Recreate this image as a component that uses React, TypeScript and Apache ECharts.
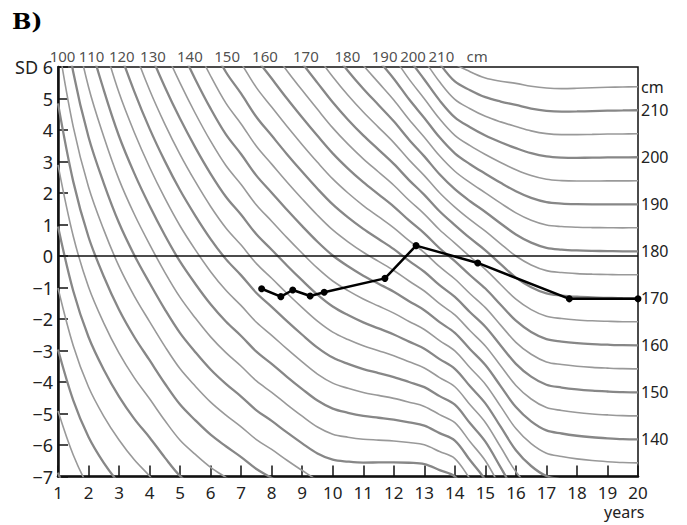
import React, { useEffect, useRef } from "react";
import * as echarts from "echarts";

// Growth reference: mean height and SD (cm) by age (years)
const AGES = [1, 1.5, 2, 2.5, 3, 3.5, 4, 4.5, 5, 5.5, 6, 6.5, 7, 7.5, 8, 8.5, 9, 9.5, 10, 10.5, 11, 11.5, 12, 12.5, 13, 13.5, 14, 14.5, 15, 15.5, 16, 16.5, 17, 17.5, 18, 18.5, 19, 19.5, 20];
const MEAN_CM = [77.6, 83.2, 88.1, 92.2, 96.2, 99.9, 103.5, 107.2, 110.8, 114.1, 117.4, 120.5, 123.2, 126.3, 128.9, 131.7, 134.5, 137.3, 139.9, 142.1, 144.2, 146.2, 148.4, 151.2, 154.1, 157.9, 161.4, 165.2, 168.5, 172.0, 175.0, 177.0, 178.2, 178.6, 178.8, 178.9, 178.95, 179.0, 179.0];
const SD_CM = [2.56, 2.88, 3.15, 3.38, 3.63, 3.85, 4.08, 4.25, 4.41, 4.62, 4.83, 5.05, 5.2, 5.37, 5.52, 5.66, 5.8, 5.95, 6.17, 6.45, 6.74, 7.05, 7.39, 7.8, 8.19, 8.52, 8.77, 8.51, 8.23, 7.75, 7.3, 7.05, 6.9, 6.85, 6.8, 6.76, 6.73, 6.71, 6.7];

// Height isolines (cm)
const HEIGHTS = [60, 65, 70, 75, 80, 85, 90, 95, 100, 105, 110, 115, 120, 125, 130, 135, 140, 145, 150, 155, 160, 165, 170, 175, 180, 185, 190, 195, 200, 205, 210, 215];
const RIGHT_LABEL_HEIGHTS = [140, 150, 160, 170, 180, 190, 200, 210];
const UNIT_HEIGHT = 215;

// Top labels (age at which each label sits on the +6 SD edge)
const TOP_LABEL_AGES = [1.15, 2.1, 3.09, 4.11, 5.32, 6.54, 7.78, 9.12, 10.48, 11.7, 12.63, 13.56, 14.73];
const TOP_LABELS = ["100", "110", "120", "130", "140", "150", "160", "170", "180", "190", "200", "210", "cm"];

// Patient measurements
const PATIENT_AGES = [7.67, 8.3, 8.69, 9.26, 9.72, 11.71, 12.73, 14.75, 17.75, 20.0];
const PATIENT_SDS = [-1.04, -1.29, -1.08, -1.27, -1.15, -0.71, 0.33, -0.22, -1.36, -1.36];

const FONT = "Noto Sans";

export default function App() {
  const ref = useRef<HTMLDivElement>(null);

  useEffect(() => {
    document.body.style.margin = "0";
    const chart = echarts.init(ref.current!, undefined, { renderer: "svg" });

    const curveSeries = HEIGHTS.map((h) => {
      const major = h % 10 === 0;
      const labelled = RIGHT_LABEL_HEIGHTS.includes(h) || h === UNIT_HEIGHT;
      return {
        type: "line",
        data: AGES.map((a, i) => [a, (h - MEAN_CM[i]) / SD_CM[i]]),
        showSymbol: false,
        smooth: 0.35,
        silent: true,
        z: 2,
        lineStyle: { color: major ? "#878787" : "#999999", width: major ? 2.3 : 1.6 },
        endLabel: labelled
          ? {
              show: true,
              formatter: h === UNIT_HEIGHT ? "cm" : String(h),
              distance: 3,
              fontFamily: FONT,
              fontSize: 16,
              color: "#222",
            }
          : { show: false },
      };
    });

    const option = {
      animation: false,
      backgroundColor: "#ffffff",
      grid: {
        left: 58,
        right: 49,
        top: 67,
        bottom: 48.5,
        show: true,
        borderColor: "#111",
        borderWidth: 1.5,
        backgroundColor: "transparent",
      },
      xAxis: {
        type: "value",
        min: 1,
        max: 20,
        interval: 1,
        splitLine: { show: false },
        axisLine: { show: true, onZero: false, lineStyle: { color: "#111", width: 2.5 } },
        axisTick: { show: true, inside: true, length: 11, lineStyle: { color: "#111", width: 1.5 } },
        axisLabel: { fontFamily: FONT, fontSize: 17, color: "#222", margin: 7 },
      },
      yAxis: {
        type: "value",
        min: -7,
        max: 6,
        interval: 1,
        splitLine: { show: false },
        axisLine: { show: true, onZero: false, lineStyle: { color: "#111", width: 2.5 } },
        axisTick: { show: true, inside: true, length: 10, lineStyle: { color: "#111", width: 1.5 } },
        axisLabel: {
          fontFamily: FONT,
          fontSize: 18,
          color: "#222",
          margin: 5,
          padding: [6, 0, 0, 0],
          formatter: (v: number) => (v === 6 ? "SD 6" : v < 0 ? "\u2212" + Math.abs(v) : String(v)),
        },
      },
      series: [
        ...curveSeries,
        {
          type: "line",
          data: [],
          silent: true,
          markLine: {
            silent: true,
            symbol: "none",
            label: { show: false },
            lineStyle: { color: "#111", width: 1.5, type: "solid" },
            data: [{ yAxis: 0 }],
          },
          z: 3,
        },
        {
          type: "scatter",
          data: TOP_LABEL_AGES.map((a, i) => ({ value: [a, 6], name: TOP_LABELS[i] })),
          symbolSize: 0,
          silent: true,
          clip: false,
          label: {
            show: true,
            position: "top",
            distance: 4,
            formatter: (p: any) => p.name,
            fontFamily: FONT,
            fontSize: 15,
            color: "#222",
          },
        },
        {
          type: "line",
          data: PATIENT_AGES.map((a, i) => [a, PATIENT_SDS[i]]),
          symbol: "circle",
          symbolSize: 7,
          showSymbol: true,
          clip: false,
          z: 5,
          lineStyle: { color: "#000", width: 2.5 },
          itemStyle: { color: "#000" },
        },
      ],
      graphic: [
        {
          type: "text",
          left: 12,
          top: 9,
          style: { text: "B)", fontFamily: "DejaVu Serif", fontWeight: "bold", fontSize: 23, fill: "#000" },
        },
        {
          type: "text",
          left: 604,
          top: 504,
          style: { text: "years", fontFamily: FONT, fontSize: 16, fill: "#222" },
        },
      ],
    };

    chart.setOption(option as any);
    return () => chart.dispose();
  }, []);

  return <div ref={ref} style={{ width: 687, height: 525 }} />;
}
